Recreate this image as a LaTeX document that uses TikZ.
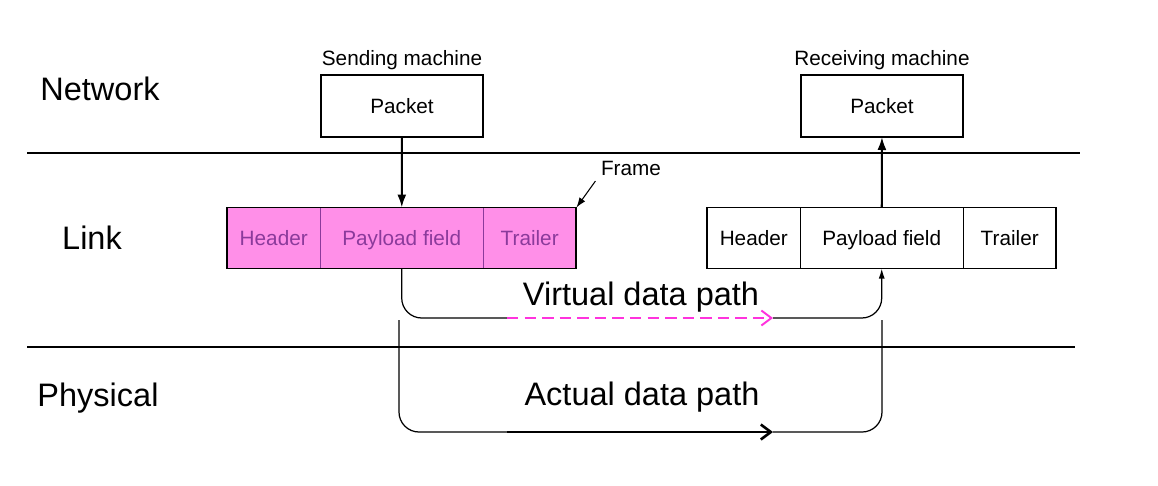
\documentclass[tikz,border=0pt]{standalone}
\usepackage{fontspec}
\setmainfont{Liberation Sans}
\usetikzlibrary{arrows.meta}
\usetikzlibrary{positioning}

\definecolor{framepink}{HTML}{FF8FE8}
\definecolor{framefont}{HTML}{8B3A9B}
\definecolor{virtpink}{HTML}{FF33DD}

\begin{document}
\begin{tikzpicture}[x=0.02cm, y=-0.02cm,
    layer/.style={font=\fontsize{18.5}{22}\selectfont,
        text height=13.25pt, text depth=0pt},
    small/.style={font=\fontsize{11.8}{14}\selectfont,
        text height=8.45pt, text depth=0pt, inner sep=0pt},
    pkt/.style={draw, line width=0.8pt, small,
        minimum width=3.24cm, minimum height=1.24cm,
        inner sep=0pt, outer sep=0pt},
    cell/.style 2 args={draw=#2, line width=0.5pt, fill=#1, small,
        minimum height=1.22cm, inner sep=0pt, outer sep=0pt, anchor=west},
    vert/.style={line width=1.2pt, -{Latex[length=0.26cm,width=0.18cm]}},
    datapath/.style={line width=0.7pt, rounded corners=0.4cm},
    virt/.style={virtpink, line width=1.1pt, dash pattern=on 6.5pt off 3.5pt,
        -{Straight Barb[length=0.2cm,width=0.3cm]}},
    actual/.style={line width=1.5pt,
        -{Straight Barb[length=0.2cm,width=0.3cm]}}]

\useasboundingbox (0,0) rectangle (1158,485);

% layers
\draw[line width=0.6pt] (27,153) -- (1080,153);
\draw[line width=0.6pt] (27,347) -- (1075,347);
\node[layer] (net) at (100,89) {Network};
\node[layer] (link) at (92,238) {Link};
\node[layer] (phys) at (98,395) {Physical};

% machines
\node[pkt] (sp) at (402,106) {Packet};
\node[small, above=0.18cm of sp] (sm) {Sending machine};
\node[pkt] (rp) at (882,106) {Packet};
\node[small, above=0.18cm of rp] (rm) {Receiving machine};

% frames
\foreach \s/\x/\fc/\tc in {l/227/framepink/framefont, r/707/white/black} {
    \node[cell={\fc}{\tc}, text=\tc, minimum width=1.87cm] (\s-h) at (\x,238) {Header};
    \node[cell={\fc}{\tc}, text=\tc, minimum width=3.25cm, right=0pt of \s-h] (\s-p) {Payload field};
    \node[cell={\fc}{\tc}, text=\tc, minimum width=1.87cm, right=0pt of \s-p] (\s-t) {Trailer};
    \draw[line width=1.1pt] (\s-h.north west) rectangle (\s-t.south east);
}

\draw[vert] (sp) -- (l-p);
\draw[vert] (r-p) -- (rp);

\node[small, inner sep=3pt] (fr) at (631,168) {Frame};
\draw[line width=0.6pt, -{Latex[length=0.2cm,width=0.14cm]}] (fr.south west) -- (l-t.north east);

% virtual path
\coordinate (vs) at (507,318);
\coordinate (ve) at (773,318);
\draw[datapath] (l-p.south) |- (vs);
\draw[virt] (vs) -- (ve);
\draw[datapath, -{Latex[length=0.2cm,width=0.12cm]}] (ve) -| (r-p.south);
\node[layer] (vl) at (641,294) {Virtual data path};

% actual path
\coordinate (as) at (399,320);
\coordinate (ae) at (882,320);
\coordinate (ps) at (507,432);
\coordinate (pe) at (773,432);
\draw[datapath] (as) |- (ps);
\draw[actual] (ps) -- (pe);
\draw[datapath] (pe) -| (ae);
\node[layer] (al) at (642,394) {Actual data path};

\end{tikzpicture}
\end{document}
